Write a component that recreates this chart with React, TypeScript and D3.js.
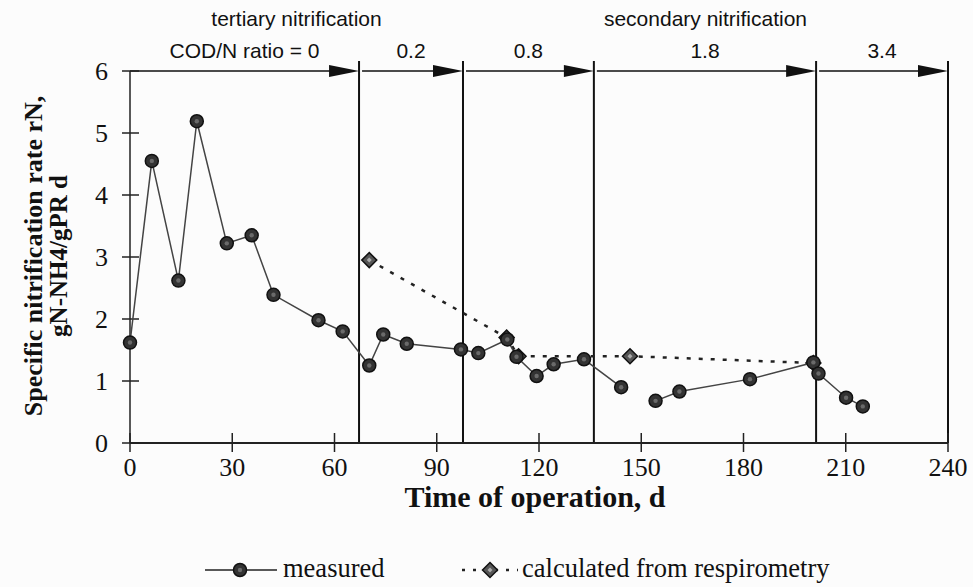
import React from "react";
import * as d3 from "d3";

// ---- data ----
const measuredDays = [0, 6.4, 14.2, 19.6, 28.4, 35.7, 42.1, 55.3, 62.4, 70.2, 74.3, 81.2, 97.1, 102.2, 110.7, 113.4, 119.3, 124.3, 133.2, 144.1, 154.2, 161.2, 181.9, 200.5, 202.0, 210.1, 215.0];
const measuredRates = [1.62, 4.55, 2.62, 5.19, 3.22, 3.35, 2.39, 1.98, 1.8, 1.25, 1.75, 1.6, 1.51, 1.45, 1.67, 1.39, 1.08, 1.27, 1.35, 0.9, 0.68, 0.83, 1.03, 1.3, 1.12, 0.73, 0.59];
const measuredGapAfterDay = 144.1;

const calcDays = [70.2, 110.5, 114.0, 146.7, 200.5];
const calcRates = [2.95, 1.7, 1.4, 1.4, 1.29];

const xTicks = [0, 30, 60, 90, 120, 150, 180, 210, 240];
const yTicks = [0, 1, 2, 3, 4, 5, 6];

const periodBounds = [0, 67.2, 97.7, 136.1, 201.3, 240];
const periodLabels = ["COD/N ratio = 0", "0.2", "0.8", "1.8", "3.4"];
const phaseLabels = ["tertiary nitrification", "secondary nitrification"];
const phaseRanges = [[0, 97.7], [97.7, 240]];

const xTitle = "Time of operation, d";
const yTitle1 = "Specific nitrification rate rN,";
const yTitle2 = "gN-NH4/gPR d";
const legendMeasured = "measured";
const legendCalc = "calculated from respirometry";

const W = 973;
const H = 587;
const serif = "'Liberation Serif', 'Times New Roman', serif";
const sans = "'Liberation Sans', Arial, sans-serif";

export default function App() {
  const x = d3.scaleLinear().domain([0, 240]).range([130, 948]);
  const y = d3.scaleLinear().domain([0, 6]).range([443, 71]);

  const measured = measuredDays.map((d, i) => ({ d, v: measuredRates[i] }));
  const seg1 = measured.filter((p) => p.d <= measuredGapAfterDay);
  const seg2 = measured.filter((p) => p.d > measuredGapAfterDay);
  const calc = calcDays.map((d, i) => ({ d, v: calcRates[i] }));

  const line = d3
    .line<{ d: number; v: number }>()
    .x((p) => x(p.d))
    .y((p) => y(p.v));

  const arrowY = y(6);
  const diamond = (cx: number, cy: number, r: number) =>
    `M${cx},${cy - r}L${cx + r},${cy}L${cx},${cy + r}L${cx - r},${cy}Z`;

  const Circle = ({ cx, cy }: { cx: number; cy: number }) => (
    <g>
      <circle cx={cx} cy={cy} r={6.5} fill="#333" stroke="#111" strokeWidth={1.5} />
      <circle cx={cx} cy={cy} r={2.2} fill="#6a6a6a" />
    </g>
  );
  const Diamond = ({ cx, cy }: { cx: number; cy: number }) => (
    <g>
      <path d={diamond(cx, cy, 7.5)} fill="#555" stroke="#111" strokeWidth={1.5} />
      <path d={diamond(cx, cy, 2.5)} fill="#aaa" />
    </g>
  );

  const legendY = 570;

  return (
    <div style={{ position: "absolute", left: 0, top: 0 }}>
      <svg width={W} height={H} style={{ display: "block", background: "#fcfcfc" }}>
        {/* phase labels */}
        {phaseLabels.map((t, i) => (
          <text
            key={t}
            x={(x(phaseRanges[i][0]) + x(phaseRanges[i][1])) / 2}
            y={26}
            textAnchor="middle"
            fontFamily={sans}
            fontSize={21}
            fill="#111"
          >
            {t}
          </text>
        ))}
        {/* period labels + arrows */}
        {periodLabels.map((t, i) => {
          const x0 = x(periodBounds[i]);
          const x1 = x(periodBounds[i + 1]);
          const start = i === 0 ? x0 : x0 + 3;
          return (
            <g key={t}>
              <text
                x={(x0 + x1) / 2}
                y={58}
                textAnchor="middle"
                fontFamily={sans}
                fontSize={21}
                fill="#111"
              >
                {t}
              </text>
              <line x1={start} x2={x1 - 20} y1={arrowY} y2={arrowY} stroke="#111" strokeWidth={1.5} />
              <path d={`M${x1 - 30},${arrowY - 6}L${x1},${arrowY}L${x1 - 30},${arrowY + 6}Z`} fill="#111" />
            </g>
          );
        })}
        {/* vertical period lines */}
        {periodBounds.slice(1).map((b) => (
          <line key={b} x1={x(b)} x2={x(b)} y1={61} y2={y(0)} stroke="#111" strokeWidth={2} />
        ))}
        {/* axes */}
        <line x1={x(0)} x2={x(0)} y1={y(0)} y2={y(6)} stroke="#222" strokeWidth={1.5} />
        <line x1={x(0)} x2={x(240)} y1={y(0)} y2={y(0)} stroke="#222" strokeWidth={2} />
        {yTicks.map((t) => (
          <g key={"y" + t}>
            <line x1={x(0) - 8} x2={x(0) + 9} y1={y(t)} y2={y(t)} stroke="#222" strokeWidth={1.5} />
            <text
              x={108}
              y={y(t)}
              dy="0.34em"
              textAnchor="end"
              fontFamily={serif}
              fontSize={26}
              fill="#111"
            >
              {t}
            </text>
          </g>
        ))}
        {xTicks.map((t) => (
          <g key={"x" + t}>
            <line x1={x(t)} x2={x(t)} y1={y(0) - 10} y2={y(0) + 9} stroke="#222" strokeWidth={1.5} />
            <text x={x(t)} y={476} textAnchor="middle" fontFamily={serif} fontSize={26} fill="#111">
              {t}
            </text>
          </g>
        ))}
        {/* axis titles */}
        <text x={535} y={507} textAnchor="middle" fontFamily={serif} fontWeight="bold" fontSize={30} fill="#111">
          {xTitle}
        </text>
        <text
          transform={`translate(42,256) rotate(-90)`}
          textAnchor="middle"
          fontFamily={serif}
          fontWeight="bold"
          fontSize={26}
          fill="#111"
        >
          {yTitle1}
        </text>
        <text
          transform={`translate(67,256) rotate(-90)`}
          textAnchor="middle"
          fontFamily={serif}
          fontWeight="bold"
          fontSize={25}
          fill="#111"
        >
          {yTitle2}
        </text>
        {/* calculated series */}
        <path d={line(calc) || ""} fill="none" stroke="#222" strokeWidth={2.5} strokeDasharray="4,8" />
        {calc.map((p, i) => (
          <Diamond key={"c" + i} cx={x(p.d)} cy={y(p.v)} />
        ))}
        {/* measured series */}
        <path d={line(seg1) || ""} fill="none" stroke="#444" strokeWidth={1.5} />
        <path d={line(seg2) || ""} fill="none" stroke="#444" strokeWidth={1.5} />
        {measured.map((p, i) => (
          <Circle key={"m" + i} cx={x(p.d)} cy={y(p.v)} />
        ))}
        {/* legend */}
        <line x1={205} x2={277} y1={legendY} y2={legendY} stroke="#222" strokeWidth={1.5} />
        <Circle cx={240} cy={legendY} />
        <text x={283} y={legendY + 7} fontFamily={serif} fontSize={26.5} fill="#111">
          {legendMeasured}
        </text>
        <line x1={462} x2={518} y1={legendY} y2={legendY} stroke="#222" strokeWidth={2.5} strokeDasharray="3,8" />
        <Diamond cx={490} cy={legendY} />
        <text x={522} y={legendY + 7} fontFamily={serif} fontSize={26.5} fill="#111">
          {legendCalc}
        </text>
      </svg>
    </div>
  );
}
